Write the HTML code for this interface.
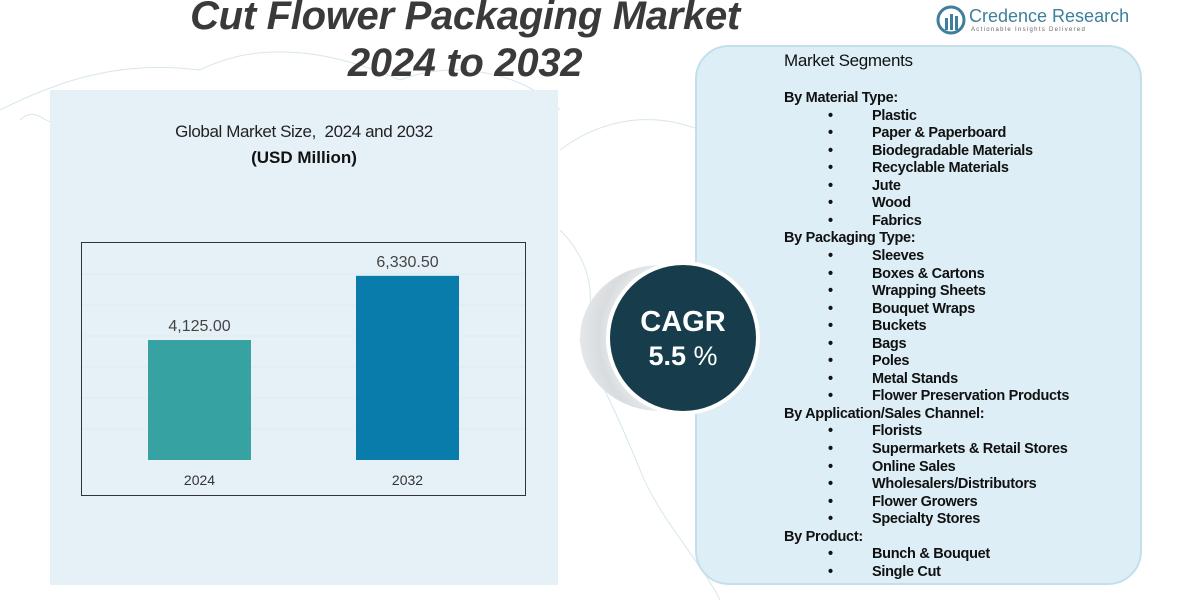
<!DOCTYPE html>
<html><head><meta charset="utf-8"><style>
body{margin:0;width:1180px;height:612px;overflow:hidden;background:#fff;font-family:"Liberation Sans",sans-serif;position:relative}
.abs{position:absolute}
#title{left:150px;top:-7px;width:630px;text-align:center;font-size:40px;font-weight:bold;font-style:italic;color:#3a3a3a;line-height:47px;letter-spacing:-0.3px}
#leftpanel{left:50px;top:90px;width:508px;height:495px;background:#e6f1f7}
#rightpanel{left:695px;top:45px;width:447px;height:540px;background:#ddeef6;border:2px solid #c4dfec;border-radius:34px;box-sizing:border-box}
.seg{font-size:14.5px;color:#111;line-height:17.5px;white-space:nowrap;letter-spacing:-0.3px}
</style></head><body>
<svg class="abs" style="left:0;top:0" width="1180" height="612">
<g fill="none" stroke="#d6e6ee" stroke-width="1">
<path d="M0,110 C60,80 120,60 200,70 C260,40 330,50 400,80 C450,60 520,70 560,110"/>
<path d="M560,150 C600,120 650,110 700,130 C740,100 780,110 800,60"/>
<path d="M560,230 C590,260 600,300 580,340 C600,380 620,420 640,470 C660,520 700,560 720,600"/>
<path d="M20,120 C40,100 50,140 80,120"/>
</g></svg>
<div id="title" class="abs">Cut Flower Packaging Market<br>2024 to 2032</div>
<div class="abs" style="left:936px;top:5px">
<svg width="30" height="30" style="position:absolute;left:0;top:0"><circle cx="15" cy="15" r="13" fill="none" stroke="#3f7f9b" stroke-width="3"/><rect x="9" y="13" width="3" height="12" fill="#3f7f9b"/><rect x="14" y="9" width="3" height="16" fill="#3f7f9b"/><rect x="19" y="11" width="3" height="14" fill="#3f7f9b"/></svg>
<div style="position:absolute;left:33px;top:1px;font-size:18px;color:#3f7f9b;white-space:nowrap">Credence Research</div>
<div style="position:absolute;left:35px;top:22px;font-size:6px;color:#666;letter-spacing:1.3px;white-space:nowrap">Actionable Insights Delivered</div>
</div>
<div id="leftpanel" class="abs"></div>
<div class="abs" style="left:50px;top:122px;width:508px;text-align:center;font-size:17px;color:#222;letter-spacing:-0.4px">Global Market Size,&nbsp; 2024 and 2032</div>
<div class="abs" style="left:50px;top:148px;width:508px;text-align:center;font-size:17px;font-weight:bold;color:#111">(USD Million)</div>
<svg class="abs" style="left:0;top:0" width="600" height="612" id="chart"></svg>
<div id="rightpanel" class="abs"></div>
<div class="abs" style="left:580px;top:265px;width:160px;height:146px;border-radius:50%;background:radial-gradient(circle at 70% 50%,#fff 45%,#d8dcdf 70%,#f4f5f6 100%)"></div>
<div class="abs" style="left:606px;top:261px;width:154px;height:154px;border-radius:50%;background:#fff"></div>
<div class="abs" style="left:610px;top:265px;width:146px;height:146px;border-radius:50%;background:#173d4d;color:#fff;text-align:center;font-weight:bold">
<div style="margin-top:40px;font-size:29px;line-height:34px">CAGR</div><div style="font-size:27px;line-height:34px">5.5 <span style="font-weight:normal">%</span></div></div>
<div id="segs" class="abs" style="left:0;top:0"></div>
<script>
const categories=["2024","2032"];
const values=[4125.00,6330.50];
const labels=["4,125.00","6,330.50"];
const colors=["#36a2a2","#0a7cac"];
const svg=document.getElementById('chart');const NS="http://www.w3.org/2000/svg";
function mk(t,a){const e=document.createElementNS(NS,t);for(const k in a)e.setAttribute(k,a[k]);svg.appendChild(e);return e;}
const base=460,scale=120/4125;
function y(v){return base-v*scale;}
function x(i){return 148+i*208;}
const fr=mk('rect',{x:81.5,y:242.5,width:444,height:253,fill:'none',stroke:'#333','stroke-width':1});

for(let g=1;g<=6;g++){const l=mk('line',{x1:82,x2:525,y1:base-g*31,y2:base-g*31,stroke:'#e0eaef','stroke-width':1});
}
categories.forEach((c,i)=>{
const r=mk('rect',{x:x(i),y:y(values[i]),width:103,height:base-y(values[i]),fill:colors[i]});

const t=mk('text',{x:x(i)+51.5,y:y(values[i])-9,'text-anchor':'middle','font-size':16,fill:'#444','font-family':'Liberation Sans'});t.textContent=labels[i];

const a=mk('text',{x:x(i)+51.5,y:485,'text-anchor':'middle','font-size':14,fill:'#333','font-family':'Liberation Sans'});a.textContent=c;

});
const items=[["h","Market Segments"],["g",""],["H","By Material Type:"],["b","Plastic"],["b","Paper & Paperboard"],["b","Biodegradable Materials"],["b","Recyclable Materials"],["b","Jute"],["b","Wood"],["b","Fabrics"],["H","By Packaging Type:"],["b","Sleeves"],["b","Boxes & Cartons"],["b","Wrapping Sheets"],["b","Bouquet Wraps"],["b","Buckets"],["b","Bags"],["b","Poles"],["b","Metal Stands"],["b","Flower Preservation Products"],["H","By Application/Sales Channel:"],["b","Florists"],["b","Supermarkets & Retail Stores"],["b","Online Sales"],["b","Wholesalers/Distributors"],["b","Flower Growers"],["b","Specialty Stores"],["H","By Product:"],["b","Bunch & Bouquet"],["b","Single Cut"]];
const box=document.getElementById('segs');
let yy=90;
items.forEach(([k,t])=>{
if(k==="h"){const d=document.createElement('div');d.className='abs seg';d.style.cssText='left:784px;top:52px;font-size:17px';d.textContent=t;
box.appendChild(d);return;}
if(k==="g")return;
const d=document.createElement('div');d.className='abs seg';d.style.top=yy+'px';d.style.fontWeight='bold';
if(k==="H"){d.style.left='784px';d.textContent=t;}
else{d.style.left='828px';d.innerHTML='•<span style="position:absolute;left:44px">'+t.replace(/&/g,'&amp;')+'</span>';}
box.appendChild(d);yy+=17.55;
});
</script>
</body></html>
